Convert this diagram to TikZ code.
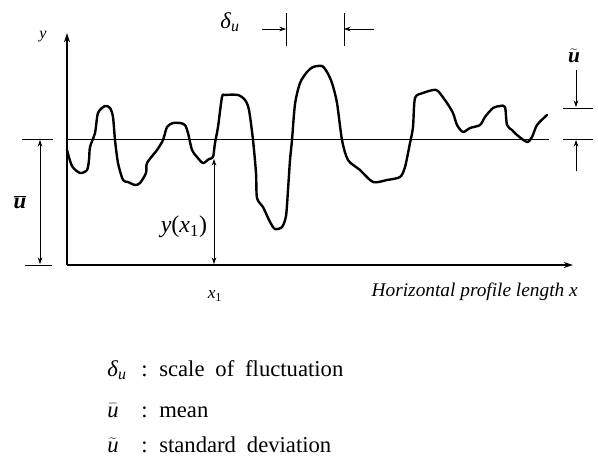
\documentclass[tikz,border=0pt]{standalone}
\usepackage{fontspec}
\setmainfont{Liberation Serif}
\usetikzlibrary{arrows.meta}
\newcommand\legfont{\fontsize{17}{19}\selectfont\spaceskip=0.48em plus 0.1em\relax}

\begin{document}
\begin{tikzpicture}[x=0.75pt, y=-0.75pt,
    axis/.style={line width=0.9pt, -{Stealth[length=7pt, width=4.5pt]}},
    thinline/.style={line width=0.7pt},
    dimarr/.style={line width=0.6pt, -{Stealth[length=5pt, width=3.5pt]}},
    dimboth/.style={line width=0.6pt, {Stealth[length=5pt, width=3.5pt]}-{Stealth[length=5pt, width=3.5pt]}},
    profile/.style={line width=1.8pt, line join=round, line cap=round},
    lbl/.style={inner sep=0pt},
    leg/.style={inner sep=0pt, anchor=base west, font=\legfont},
  ]
  \useasboundingbox (0,0) rectangle (598,461);
  % axes
  \coordinate (orig) at (67,265);
  \coordinate (ytip) at (67,33);
  \coordinate (xtip) at (573,265);
  \draw[axis] (orig) -- (ytip);
  \draw[axis] (orig) -- (xtip);
  \node[lbl, font=\fontsize{12}{14}\selectfont\itshape] (ylab) at (43,37) {y};
  \node[lbl, font=\fontsize{13}{15}\selectfont] (xone) at (215,296) {\textit{x}\textsubscript{1}};
  \node[lbl, anchor=east, font=\fontsize{14.5}{16}\selectfont\itshape] (xlab) at (578,292) {Horizontal profile length x};
  % mean line and ticks
  \coordinate (meanL) at (67,139);
  \coordinate (meanR) at (549,139);
  \draw[thinline] (meanL) -- (meanR);
  \coordinate (tkLa) at (22,139); \coordinate (tkLb) at (53,139);
  \coordinate (tkBa) at (25,265); \coordinate (tkBb) at (52,265);
  \draw[thinline] (tkLa) -- (tkLb);
  \draw[thinline] (tkBa) -- (tkBb);
  \coordinate (tkRa) at (563,108); \coordinate (tkRb) at (593,108);
  \coordinate (tkRc) at (563,139); \coordinate (tkRd) at (593,139);
  \draw[thinline] (tkRa) -- (tkRb);
  \draw[thinline] (tkRc) -- (tkRd);
  % profile
  \draw[profile] plot[smooth, tension=0.45] coordinates {
    (67,150) (72,166) (80,173) (87,170) (89,160) (90,147) (95,133) (98,113)
    (105,106) (110,108) (113,117) (115,140) (118,163) (123,180) (128,182)
    (135,185) (140,183) (146,173) (147,163) (157,150) (163,140) (167,127)
    (173,123) (180,123) (185,125) (188,133) (192,150) (197,157) (203,163)
    (209,159) (213,157) (215,143) (218,127) (222,97) (225,95) (238,95)
    (245,100) (249,110) (253,140) (256,173) (257,198) (263,207) (270,222)
    (275,229) (282,227) (286,216) (288,190) (290,160) (292,140) (295,104)
    (300,83) (307,72) (313,67) (322,66) (327,72) (332,83) (337,103)
    (342,140) (348,160) (360,170) (373,182) (387,180) (400,177) (405,167)
    (410,143) (413,127) (415,98) (423,93) (433,90) (438,91) (447,103)
    (453,113) (457,125) (463,132) (470,128) (480,125) (485,117) (493,108)
    (500,106) (505,107) (507,125) (512,130) (517,135) (527,142) (532,137)
    (537,125) (547,115)};
  % mean height
  \coordinate (ubarT) at (40,140);
  \coordinate (ubarB) at (40,264);
  \draw[dimboth] (ubarT) -- (ubarB);
  \node[lbl, font=\fontsize{17}{19}\selectfont] (ubarlab) at (20,202) {$\overline{\textbf{\textit{u}}}$};
  % y(x1)
  \coordinate (yxT) at (214,159);
  \coordinate (yxB) at (214,264);
  \draw[dimboth] (yxT) -- (yxB);
  \node[lbl, font=\fontsize{18}{20}\selectfont] (yxlab) at (184,227) {\textit{y}(\textit{x}\textsubscript{1})};
  % scale of fluctuation
  \node[lbl, font=\fontsize{17}{19}\selectfont] (dlab) at (230,22) {\textit{δ}\textsubscript{\textit{u}}};
  \coordinate (dA) at (262,29); \coordinate (dL) at (286,29);
  \coordinate (dB) at (374,29); \coordinate (dR) at (344,29);
  \coordinate (dLt) at (286,13); \coordinate (dLb) at (286,46);
  \coordinate (dRt) at (344,13); \coordinate (dRb) at (344,46);
  \draw[thinline] (dLt) -- (dLb);
  \draw[thinline] (dRt) -- (dRb);
  \draw[dimarr] (dA) -- (dL);
  \draw[dimarr] (dB) -- (dR);
  % standard deviation
  \node[lbl, font=\fontsize{16}{18}\selectfont] (ulab) at (574,56) {$\widetilde{\textbf{\textit{u}}}$};
  \coordinate (uT) at (576,70); \coordinate (uTe) at (576,107);
  \coordinate (uB) at (576,171); \coordinate (uBe) at (576,140);
  \draw[dimarr] (uT) -- (uTe);
  \draw[dimarr] (uB) -- (uBe);
  % legend
  \node[leg] (lg1) at (107,376) {\textit{δ}\textsubscript{\textit{u}}};
  \node[leg] (lg1c) at (141,376) {:};
  \node[leg] (lg1t) at (159,376) {scale of fluctuation};
  \node[leg] (lg2) at (107,417) {$\bar{\textit{u}}$};
  \node[leg] (lg2c) at (141,417) {:};
  \node[leg] (lg2t) at (159,417) {mean};
  \node[leg] (lg3) at (107,452) {$\widetilde{\textit{u}}$};
  \node[leg] (lg3c) at (141,452) {:};
  \node[leg] (lg3t) at (159,452) {standard deviation};
\end{tikzpicture}
\end{document}
